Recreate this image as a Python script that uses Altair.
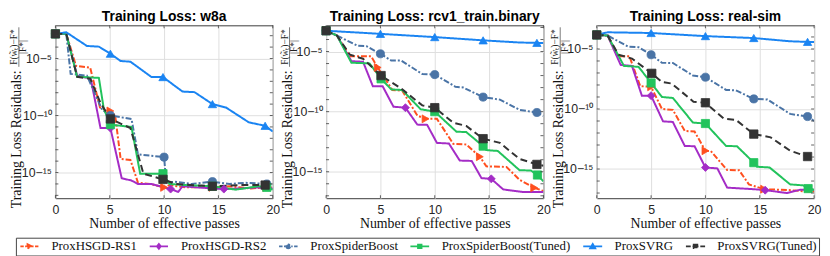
import altair as alt
import pandas as pd

SERIES = ["ProxHSGD-RS1", "ProxHSGD-RS2", "ProxSpiderBoost",
          "ProxSpiderBoost(Tuned)", "ProxSVRG", "ProxSVRG(Tuned)"]
COLORS = ["#ff4f1f", "#a42cc6", "#4a74a6", "#22c35c", "#1a84f2", "#333333"]
DASHES = [[6, 2, 2, 2], [1, 0], [6, 2, 2, 2], [1, 0], [1, 0], [7, 4]]
MARKERS = ["triangle-right", "diamond", "circle", "square", "triangle-up", "square"]
MARKER_SIZES = [64, 72, 52, 42, 80, 42]

DATASETS = ["w8a", "rcv1_train.binary", "real-sim"]
TITLES = ["Training Loss: w8a", "Training Loss: rcv1_train.binary", "Training Loss: real-sim"]
# log10 extent of the y axis of each panel
Y_LOG_RANGE = [[-17.25, -2.09], [-17.2, -2.82], [-17.43, -3.03]]
X_TICKS = [0, 5, 10, 15, 20]
Y_LABEL_TICKS = [1e-15, 1e-10, 1e-5]
Y_DECADES = list(range(-17, -2))

# ---- w8a: (effective passes, log10 residual), marker indices ----
W8A_RS1 = [(0, -2.84), (1, -2.84), (1.9, -5.65), (3.2, -5.8), (4.1, -9.3), (5.06, -9.6),
           (5.5, -10.0), (6.0, -13.8), (6.9, -13.9), (7.6, -15.9), (8.7, -16.0), (10.0, -16.3),
           (10.5, -16.1), (12.0, -16.3), (14.45, -16.3), (16.0, -16.2), (18.0, -16.4),
           (19.4, -16.3), (20, -16.3)]
W8A_RS1_MK = [0, 5, 11, 14, 17]
W8A_RS2 = [(0, -2.84), (1, -2.84), (2.0, -6.5), (3.25, -6.77), (4.15, -11.1), (5.06, -11.1),
           (6.1, -15.5), (7.0, -15.7), (7.6, -16.0), (8.8, -16.0), (10.6, -16.45), (11.3, -16.7),
           (11.7, -16.2), (13.0, -16.3), (15.5, -16.45), (17.0, -16.4), (18.5, -16.3), (20, -16.4)]
W8A_RS2_MK = [0, 5, 10, 14]
W8A_SPB = [(0, -2.84), (1, -2.84), (1.4, -6.35), (2.9, -6.5), (4.3, -9.5), (5.06, -10.0),
           (7.0, -10.3), (7.6, -13.4), (10.0, -13.65), (10.2, -15.9), (11.0, -15.8),
           (12.5, -16.0), (14.45, -15.8), (16.0, -16.0), (17.5, -15.9), (19.45, -16.0), (20, -16.0)]
W8A_SPB_MK = [0, 5, 8, 12, 15]
W8A_SPBT = [(0, -2.84), (1, -2.84), (2.0, -6.6), (4.0, -6.7), (4.45, -9.4), (5.06, -10.8),
            (7.0, -11.0), (7.8, -15.1), (9.9, -15.1), (10.5, -16.0), (12.0, -16.1),
            (14.45, -16.2), (16.6, -16.5), (18.7, -16.2), (19.45, -16.3), (20, -16.5)]
W8A_SPBT_MK = [0, 5, 8, 11, 14]
W8A_SVRG = [(0, -2.84), (1, -2.7), (2.9, -3.9), (4.0, -3.96), (5.06, -4.58), (6.0, -5.22),
            (6.9, -5.28), (8.85, -6.63), (9.9, -6.63), (11.7, -7.9), (12.8, -7.95),
            (14.45, -9.0), (15.7, -9.3), (17.8, -10.6), (19.3, -10.9), (20, -11.4)]
W8A_SVRG_MK = [0, 4, 8, 11, 14]
W8A_SVRGT = [(0, -2.84), (1, -2.84), (2.0, -6.6), (3.2, -6.77), (4.15, -8.9), (5.06, -10.3),
             (6.9, -11.1), (8.1, -15.1), (9.9, -15.6), (11.1, -16.0), (12.5, -16.1),
             (14.45, -16.2), (17.0, -16.1), (19.3, -16.1), (20, -16.1)]
W8A_SVRGT_MK = [0, 5, 8, 11, 13]

# ---- rcv1_train.binary ----
RCV_RS1 = [(0, -3.27), (1, -3.67), (2.2, -5.4), (4.15, -5.4), (4.75, -6.33), (6.1, -8.2),
           (7.0, -8.25), (8.4, -10.33), (9.15, -10.6), (10.2, -10.6), (11.7, -12.68),
           (12.9, -12.73), (14.15, -13.75), (14.75, -14.55), (16.6, -14.6), (17.8, -15.67),
           (19.15, -16.33), (20, -16.6)]
RCV_RS1_MK = [0, 4, 8, 12, 16]
RCV_RS2 = [(0, -3.27), (1, -3.67), (2.33, -5.8), (3.4, -5.85), (4.3, -7.88), (5.2, -7.88),
           (6.2, -9.59), (7.3, -9.67), (8.4, -11.08), (9.3, -11.1), (10.2, -12.6),
           (11.3, -12.65), (12.3, -14.07), (13.4, -14.1), (14.3, -15.53), (15.2, -15.59),
           (16.3, -16.47), (18.1, -16.68), (20, -16.68)]
RCV_RS2_MK = [0, 7, 15]
RCV_SPB = [(0, -3.27), (1, -3.67), (2.9, -4.52), (3.7, -4.55), (5.0, -5.19), (6.0, -5.75),
           (6.9, -5.75), (8.85, -6.87), (10.0, -6.92), (11.9, -7.93), (12.6, -7.99),
           (14.45, -8.79), (16.0, -9.0), (17.8, -9.85), (19.4, -10.07), (20, -10.35)]
RCV_SPB_MK = [0, 4, 8, 11, 14]
RCV_SPBT = [(0, -3.27), (1, -3.67), (2.33, -5.93), (4.0, -5.99), (5.06, -7.27), (6.0, -8.15),
            (7.0, -8.2), (8.7, -9.8), (10.0, -10.0), (12.0, -11.67), (12.9, -11.7),
            (14.45, -12.87), (14.75, -13.2), (15.8, -13.27), (17.8, -14.87), (18.85, -14.9),
            (19.45, -15.27), (20, -15.8)]
RCV_SPBT_MK = [0, 4, 8, 11, 16]
RCV_SVRG = [(0, -3.27), (5, -3.53), (10, -3.8), (14.45, -4.07), (17.8, -4.25), (19.4, -4.28),
            (20, -4.3)]
RCV_SVRG_MK = [0, 1, 2, 3, 5]
RCV_SVRGT = [(0, -3.27), (1, -3.67), (2.2, -5.27), (3.4, -5.6), (5.06, -7.0), (6.9, -8.07),
             (8.85, -9.48), (10.0, -9.67), (11.7, -10.92), (12.9, -11.19), (14.45, -12.25),
             (16.0, -12.6), (17.8, -13.93), (19.4, -14.39), (20, -14.5)]
RCV_SVRGT_MK = [0, 4, 7, 10, 13]

# ---- real-sim ----
RS_RS1 = [(0, -3.83), (1, -3.88), (1.9, -5.6), (3.0, -5.6), (4.0, -8.1), (5.0, -8.15),
          (6.0, -10.0), (7.0, -10.07), (8.1, -11.83), (9.0, -11.88), (10.0, -13.48),
          (10.5, -13.5), (12.0, -15.08), (13.1, -15.1), (14.0, -16.28), (15.4, -16.68),
          (17.8, -16.76), (19.75, -16.9), (20, -16.85)]
RS_RS1_MK = [0, 5, 10, 15]
RS_RS2 = [(0, -3.83), (1, -3.88), (2.2, -6.33), (3.24, -6.41), (4.15, -8.89), (5.0, -8.89),
          (6.1, -11.03), (7.0, -11.08), (8.1, -13.08), (9.0, -13.1), (10.0, -14.87),
          (11.1, -14.95), (12.0, -16.55), (14.45, -16.68), (15.5, -16.76), (17.5, -17.0),
          (18.7, -16.73), (20, -16.73)]
RS_RS2_MK = [0, 5, 10, 14]
RS_SPB = [(0, -3.83), (1, -3.88), (2.9, -4.81), (3.85, -4.85), (5.0, -5.48), (6.0, -6.15),
          (7.0, -6.17), (8.85, -7.21), (10.0, -7.35), (11.9, -8.41), (12.8, -8.45),
          (14.45, -9.16), (15.7, -9.21), (17.8, -10.41), (19.4, -10.63), (20, -11.0)]
RS_SPB_MK = [0, 4, 8, 11, 14]
RS_SPBT = [(0, -3.83), (1, -3.88), (2.5, -6.41), (3.85, -6.49), (5.0, -7.83), (6.0, -9.0),
           (7.0, -9.08), (8.85, -11.13), (10.0, -11.21), (11.9, -13.08), (12.9, -13.1),
           (14.45, -14.47), (14.75, -14.81), (15.9, -14.87), (17.8, -16.28), (19.0, -16.36),
           (19.45, -16.63), (20, -16.73)]
RS_SPBT_MK = [0, 4, 8, 11, 16]
RS_SVRG = [(0, -3.83), (1, -3.61), (5, -3.67), (10, -3.93), (14.45, -4.09), (17.8, -4.36),
           (19.4, -4.41), (20, -4.42)]
RS_SVRG_MK = [0, 2, 3, 4, 6]
RS_SVRGT = [(0, -3.83), (1, -3.88), (2.0, -5.48), (3.24, -5.8), (5.06, -7.03), (6.0, -7.75),
            (6.9, -7.88), (8.9, -9.4), (10.0, -9.48), (11.7, -10.81), (12.8, -10.9),
            (14.45, -12.09), (16.0, -12.36), (17.8, -13.48), (19.4, -13.96), (20, -14.2)]
RS_SVRGT_MK = [0, 4, 8, 11, 14]

PANEL_SERIES = [
    [(W8A_RS1, W8A_RS1_MK), (W8A_RS2, W8A_RS2_MK), (W8A_SPB, W8A_SPB_MK),
     (W8A_SPBT, W8A_SPBT_MK), (W8A_SVRG, W8A_SVRG_MK), (W8A_SVRGT, W8A_SVRGT_MK)],
    [(RCV_RS1, RCV_RS1_MK), (RCV_RS2, RCV_RS2_MK), (RCV_SPB, RCV_SPB_MK),
     (RCV_SPBT, RCV_SPBT_MK), (RCV_SVRG, RCV_SVRG_MK), (RCV_SVRGT, RCV_SVRGT_MK)],
    [(RS_RS1, RS_RS1_MK), (RS_RS2, RS_RS2_MK), (RS_SPB, RS_SPB_MK),
     (RS_SPBT, RS_SPBT_MK), (RS_SVRG, RS_SVRG_MK), (RS_SVRGT, RS_SVRGT_MK)],
]

rows = []
for ds, series_list in zip(DATASETS, PANEL_SERIES):
    for k, (pts, mk) in enumerate(series_list):
        for i, (x, ly) in enumerate(pts):
            rows.append(dict(dataset=ds, series=SERIES[k], x=x, y=10 ** ly,
                             m=int(i in mk), shape=MARKERS[k], order=i))
df = pd.DataFrame(rows)

# ---------- legend glyphs: line + marker drawn as one custom symbol path ----------
LEG_CELL = 14          # legend symbol cell (px); glyph is 32 px wide, starts at cell left
_R = LEG_CELL / 2.0


def _u(p):
    return round((p - _R) / _R, 4)


def _v(p):
    return round(p / _R, 4)


def _segs(pairs):
    return "".join(f"M{_u(a)},0H{_u(b)}" for a, b in pairs)


def _poly(pts):
    return "M" + "L".join(f"{_u(a)},{_v(b)}" for a, b in pts) + "Z"


_C = 16.0
_SOLID = _segs([(0, 32)])
_DASHDOT = _segs([(0, 6), (8.5, 11), (13, 19), (21, 23.5), (26, 32)])
_DASHED = _segs([(0, 8), (11, 21), (24, 32)])
_rc = 3.6 / _R
_CIRCLE = (f"M{_u(_C - 3.6)},0A{_rc},{_rc},0,1,0,{_u(_C + 3.6)},0"
           f"A{_rc},{_rc},0,1,0,{_u(_C - 3.6)},0Z")
LEGEND_SYMBOLS = [
    _DASHDOT + _poly([(_C - 3.5, -4.2), (_C + 4.5, 0), (_C - 3.5, 4.2)]),
    _SOLID + _poly([(_C, -4.6), (_C + 3.6, 0), (_C, 4.6), (_C - 3.6, 0)]),
    _DASHDOT + _CIRCLE,
    _SOLID + _poly([(_C - 3.2, -3.2), (_C + 3.2, -3.2), (_C + 3.2, 3.2), (_C - 3.2, 3.2)]),
    _SOLID + _poly([(_C - 4.6, 3.4), (_C, -4.4), (_C + 4.6, 3.4)]),
    _DASHED + _poly([(_C - 3.2, -3.2), (_C + 3.2, -3.2), (_C + 3.2, 3.2), (_C - 3.2, 3.2)]),
]

W, H = 220, 175
TICK = 3
SERIF = "Liberation Serif"
SANS = "Liberation Sans"
TICK_COLOR = "#3a3a3a"

stroke_scale = alt.Scale(domain=SERIES, range=COLORS)
fill_scale = alt.Scale(domain=SERIES, range=COLORS)
dash_scale = alt.Scale(domain=SERIES, range=DASHES)
size_scale = alt.Scale(domain=SERIES, range=MARKER_SIZES)
legend_shape_scale = alt.Scale(domain=SERIES, range=LEGEND_SYMBOLS)

LEG = dict(title=None, symbolSize=LEG_CELL * LEG_CELL)

SUP = ("'10' + replace(replace(replace(replace(format(round(log(datum.value)/LN10), 'd'),"
       " '-', '\u207b'), '1', '\u00b9'), '0', '\u2070'), '5', '\u2075')")


def panel(idx):
    ds = DATASETS[idx]
    lo, hi = Y_LOG_RANGE[idx]
    d = df[df.dataset == ds]
    xscale = alt.Scale(domain=[0, 20], nice=False, padding=0)
    yscale = alt.Scale(type="log", domain=[10 ** lo, 10 ** hi], nice=False, padding=0)
    x = alt.X("x:Q", scale=xscale,
              axis=alt.Axis(values=X_TICKS, title="Number of effective passes",
                            titleY=29.5, titleBaseline="alphabetic", labelFlush=False))
    y = alt.Y("y:Q", scale=yscale,
              axis=alt.Axis(values=Y_LABEL_TICKS, labelExpr=SUP, labelFlush=False,
                            title="Training Loss Residuals:", titleAngle=270,
                            titleX=-35, titleY=115, titleAlign="center",
                            titleBaseline="alphabetic"))
    base = alt.Chart(d)
    lines = base.mark_line(strokeWidth=2, clip=True).encode(
        x=x, y=y,
        stroke=alt.Stroke("series:N", scale=stroke_scale, legend=alt.Legend(**LEG)),
        strokeDash=alt.StrokeDash("series:N", scale=dash_scale, legend=None),
        order="order:Q",
    )
    points = base.transform_filter("datum.m == 1").mark_point(
        filled=True, opacity=1, strokeWidth=0.8).encode(
        x=x, y=y,
        fill=alt.Fill("series:N", scale=fill_scale, legend=alt.Legend(**LEG)),
        stroke=alt.Stroke("series:N", scale=stroke_scale, legend=alt.Legend(**LEG)),
        shape=alt.Shape("shape:N", scale=None),
        size=alt.Size("series:N", scale=size_scale, legend=None),
    )
    legend_layer = base.transform_filter("false").mark_point(filled=True).encode(
        x=x, y=y,
        shape=alt.Shape("series:N", scale=legend_shape_scale, legend=alt.Legend(**LEG)),
    )
    # inward tick marks on all four sides of the box (same fields/axes as the data layers)
    ydec = pd.DataFrame({"y": [10.0 ** e for e in Y_DECADES if lo <= e <= hi]})
    xt = pd.DataFrame({"x": X_TICKS})
    tick_style = dict(color=TICK_COLOR, strokeWidth=0.8)
    yt_left = alt.Chart(ydec).mark_rule(**tick_style).encode(
        y=y, x=alt.value(0), x2=alt.value(TICK))
    yt_right = alt.Chart(ydec).mark_rule(**tick_style).encode(
        y=y, x=alt.value(W - TICK), x2=alt.value(W))
    xt_bottom = alt.Chart(xt).mark_rule(**tick_style).encode(
        x=x, y=alt.value(H - TICK), y2=alt.value(H))
    xt_top = alt.Chart(xt).mark_rule(**tick_style).encode(
        x=x, y=alt.value(0), y2=alt.value(TICK))

    title = alt.Chart(pd.DataFrame({"t": [TITLES[idx]]})).mark_text(
        font=SANS, fontSize=14, fontWeight="bold", baseline="alphabetic", align="center",
        color="black").encode(x=alt.value(W / 2), y=alt.value(-4), text="t:N")
    num = alt.Chart(pd.DataFrame({"t": ["F(w\u0303\u209c)\u2212F*"]})).mark_text(
        angle=270, font=SERIF, fontSize=9.5, baseline="alphabetic", align="center",
        color="#222").encode(x=alt.value(-39), y=alt.value(22), text="t:N")
    bar = alt.Chart(pd.DataFrame({"t": [""]})).mark_rule(
        color="#222", strokeWidth=0.6).encode(
        x=alt.value(-37), y=alt.value(2), y2=alt.value(42))
    den = alt.Chart(pd.DataFrame({"t": ["|F*|"]})).mark_text(
        angle=270, font=SERIF, fontSize=9.5, baseline="alphabetic", align="center",
        color="#222").encode(x=alt.value(-29.5), y=alt.value(22), text="t:N")
    return alt.layer(lines, points, legend_layer, yt_left, yt_right, xt_bottom, xt_top,
                     title, num, bar, den).properties(width=W, height=H)


chart = alt.hconcat(panel(0), panel(1), panel(2), spacing=54, bounds="flush").properties(
    padding={"left": 0, "top": 0, "right": 0, "bottom": 0}
).configure_view(
    stroke="#3a3a3a", strokeWidth=1
).configure_axis(
    domain=False, ticks=False, grid=True, gridColor="#dedede", gridWidth=1,
    labelFont=SANS, labelFontSize=12.5, labelColor="#262626", labelPadding=4,
    titleFont=SERIF, titleFontSize=14, titleFontWeight="normal", titleColor="#111",
).configure_axisX(labelPadding=6, titleFontSize=14).configure_legend(
    orient="none", legendX=-40, legendY=215, direction="horizontal", columns=6,
    strokeColor="#444", fillColor="white", padding=2, cornerRadius=0,
    labelFont=SERIF, labelFontSize=13, labelColor="#111", labelOffset=21,
    columnPadding=9, symbolSize=LEG_CELL * LEG_CELL, symbolStrokeWidth=1.6,
)

chart.save("out.html", embed_options={"renderer": "svg", "actions": False})
